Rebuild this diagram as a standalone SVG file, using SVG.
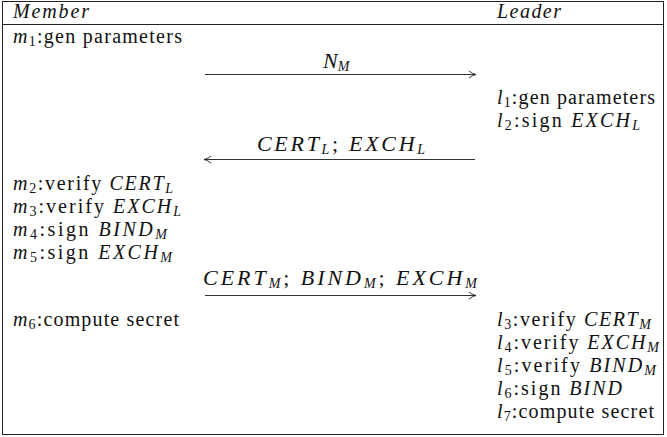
<svg xmlns="http://www.w3.org/2000/svg" width="667" height="437" viewBox="0 0 667 437">
<defs>
<marker id="ah" viewBox="0 0 10 10" refX="9" refY="5" markerWidth="10" markerHeight="10" markerUnits="userSpaceOnUse" orient="auto">
<path d="M2,1.5 Q5,4.2 9,5 Q5,5.8 2,8.5" fill="none" stroke="#222" stroke-width="0.9"/>
</marker>
<style>
text{font-size:20px;fill:#111}
.i{font-style:italic}
.s{font-size:14px}
.lb{font-size:22px}
.c{stroke:#333;stroke-width:1;fill:none}
</style>
</defs>
<rect x="2.5" y="1.5" width="661" height="433" fill="#fff" stroke="#222" stroke-width="1"/>
<line x1="2.5" y1="24.5" x2="663.5" y2="24.5" stroke="#222"/>
<g font-family="'Liberation Serif', 'Times New Roman', serif">
<g id="member"><text x="13" y="18" class="i" textLength="76">Member</text></g>
<g id="leader"><text x="497" y="18" class="i" textLength="64">Leader</text></g>
<g id="m1"><text x="13" y="43" textLength="169"><tspan class="i">m</tspan><tspan class="s" dy="3">1</tspan><tspan dy="-3">:gen parameters</tspan></text></g>
<g id="l1"><text x="497" y="104" textLength="158"><tspan class="i">l</tspan><tspan class="s" dy="3">1</tspan><tspan dy="-3">:gen parameters</tspan></text></g>
<g id="l2"><text x="497" y="127" textLength="143"><tspan class="i">l</tspan><tspan class="s" dy="3">2</tspan><tspan dy="-3">:sign </tspan><tspan class="i">EXCH</tspan><tspan class="s i" dy="3">L</tspan></text></g>
<g id="m2"><text x="13" y="190" textLength="160"><tspan class="i">m</tspan><tspan class="s" dy="3">2</tspan><tspan dy="-3">:verify </tspan><tspan class="i">CERT</tspan><tspan class="s i" dy="3">L</tspan></text></g>
<g id="m3"><text x="13" y="213" textLength="168"><tspan class="i">m</tspan><tspan class="s" dy="3">3</tspan><tspan dy="-3">:verify </tspan><tspan class="i">EXCH</tspan><tspan class="s i" dy="3">L</tspan></text></g>
<g id="m4"><text x="13" y="236" textLength="154"><tspan class="i">m</tspan><tspan class="s" dy="3">4</tspan><tspan dy="-3">:sign </tspan><tspan class="i">BIND</tspan><tspan class="s i" dy="3">M</tspan></text></g>
<g id="m5"><text x="13" y="259" textLength="159"><tspan class="i">m</tspan><tspan class="s" dy="3">5</tspan><tspan dy="-3">:sign </tspan><tspan class="i">EXCH</tspan><tspan class="s i" dy="3">M</tspan></text></g>
<g id="m6"><text x="13" y="326" textLength="166"><tspan class="i">m</tspan><tspan class="s" dy="3">6</tspan><tspan dy="-3">:compute secret</tspan></text></g>
<g id="l3"><text x="497" y="326" textLength="154"><tspan class="i">l</tspan><tspan class="s" dy="3">3</tspan><tspan dy="-3">:verify </tspan><tspan class="i">CERT</tspan><tspan class="s i" dy="3">M</tspan></text></g>
<g id="l4"><text x="497" y="349" textLength="162"><tspan class="i">l</tspan><tspan class="s" dy="3">4</tspan><tspan dy="-3">:verify </tspan><tspan class="i">EXCH</tspan><tspan class="s i" dy="3">M</tspan></text></g>
<g id="l5"><text x="497" y="372" textLength="159"><tspan class="i">l</tspan><tspan class="s" dy="3">5</tspan><tspan dy="-3">:verify </tspan><tspan class="i">BIND</tspan><tspan class="s i" dy="3">M</tspan></text></g>
<g id="l6"><text x="497" y="395" textLength="125"><tspan class="i">l</tspan><tspan class="s" dy="3">6</tspan><tspan dy="-3">:sign </tspan><tspan class="i">BIND</tspan></text></g>
<g id="l7"><text x="497" y="418" textLength="157"><tspan class="i">l</tspan><tspan class="s" dy="3">7</tspan><tspan dy="-3">:compute secret</tspan></text></g>
<g id="connectors">
<line class="c" x1="205" y1="74.5" x2="476" y2="74.5" marker-end="url(#ah)"/>
<text x="323" y="68" class="lb" font-size="23"><tspan class="i">N</tspan><tspan class="s i" dy="3" font-size="15">M</tspan></text>
<line class="c" x1="475" y1="159.5" x2="204" y2="159.5" marker-end="url(#ah)"/>
<text x="257" y="151" class="lb" textLength="168"><tspan class="i">CERT</tspan><tspan class="s i" dy="3">L</tspan><tspan dy="-3">;  </tspan><tspan class="i">EXCH</tspan><tspan class="s i" dy="3">L</tspan></text>
<line class="c" x1="205" y1="295.5" x2="476" y2="295.5" marker-end="url(#ah)"/>
<text x="203" y="285" class="lb" textLength="274"><tspan class="i">CERT</tspan><tspan class="s i" dy="3">M</tspan><tspan dy="-3">;  </tspan><tspan class="i">BIND</tspan><tspan class="s i" dy="3">M</tspan><tspan dy="-3">;  </tspan><tspan class="i">EXCH</tspan><tspan class="s i" dy="3">M</tspan></text>
</g>
</g>
</svg>
